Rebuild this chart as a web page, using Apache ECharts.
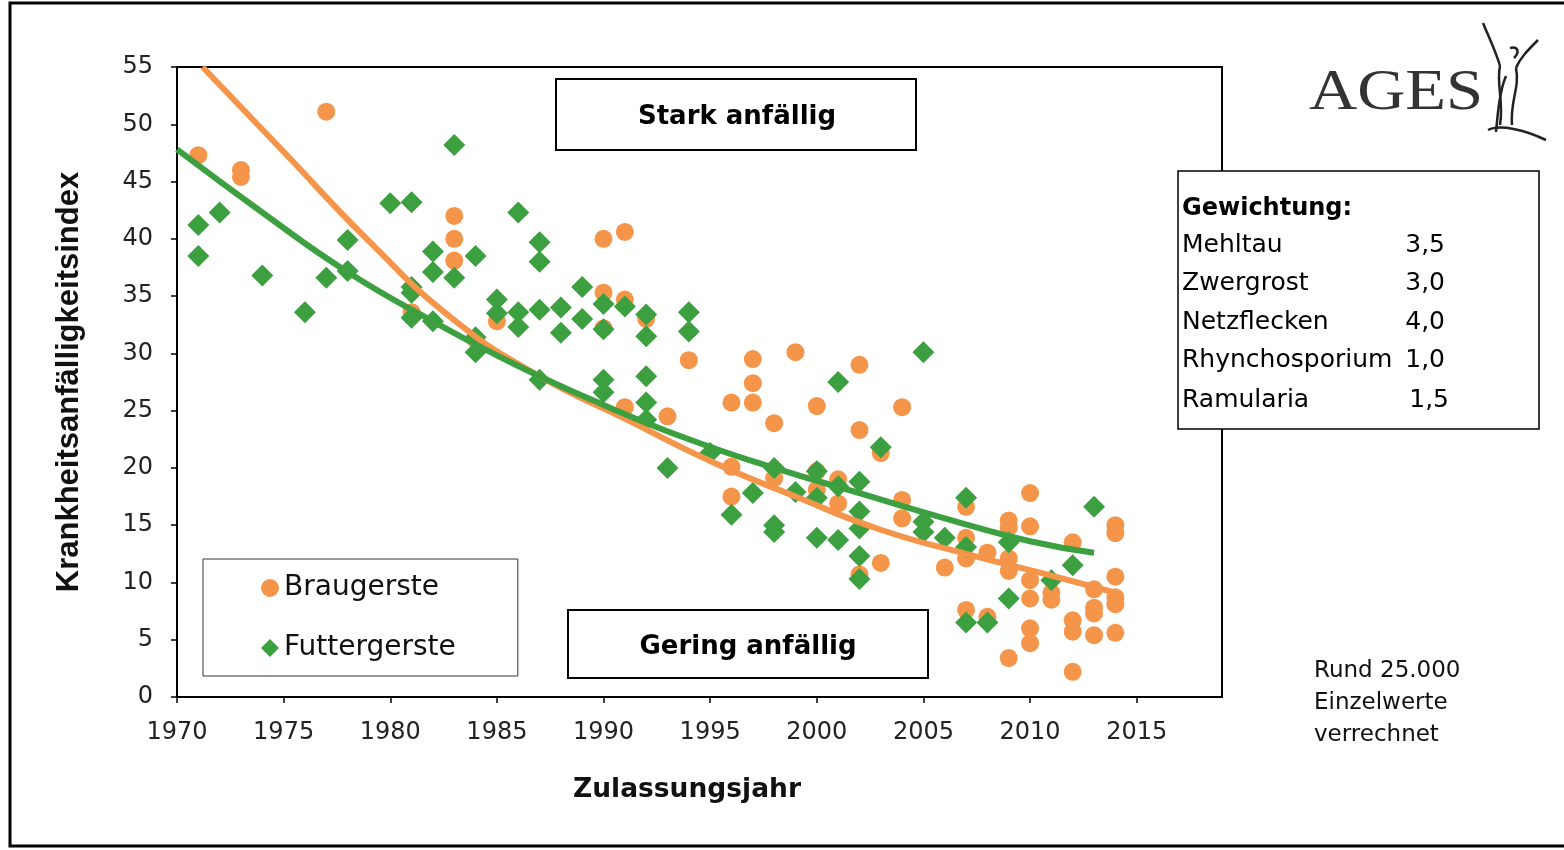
<!DOCTYPE html>
<html><head><meta charset="utf-8">
<script src="https://cdn.jsdelivr.net/npm/echarts@6/dist/echarts.min.js"></script>
<style>html,body{margin:0;padding:0;background:#fff}#c{width:1564px;height:850px}</style>
</head><body><div id="c"></div>
<script>
// ---- data ----
const braugerste = [
 [1971,47.3],[1973,46.0],[1973,45.4],[1977,51.1],[1981,33.6],[1983,42.0],[1983,40.0],[1983,38.1],
 [1984,31.2],[1985,32.8],[1990,40.0],[1990,35.3],[1990,32.2],[1991,40.6],[1991,34.7],[1991,25.3],
 [1992,33.0],[1993,24.5],[1994,29.4],[1996,25.7],[1996,20.1],[1996,17.5],[1997,29.5],[1997,27.4],
 [1997,25.7],[1998,23.9],[1998,19.1],[1999,30.1],[2000,25.4],[2000,19.7],[2000,18.1],[2001,19.0],
 [2001,16.9],[2002,29.0],[2002,23.3],[2002,10.7],[2003,21.3],[2003,11.7],[2004,25.3],[2004,17.2],
 [2004,15.6],[2006,11.3],[2007,16.6],[2007,13.9],[2007,12.1],[2007,7.6],[2008,12.6],[2008,7.0],
 [2009,15.4],[2009,14.8],[2009,12.1],[2009,11.0],[2009,3.4],[2010,17.8],[2010,14.9],[2010,10.2],
 [2010,8.6],[2010,6.0],[2010,4.7],[2011,9.1],[2011,8.5],[2012,13.5],[2012,6.7],[2012,5.7],[2012,2.2],
 [2013,9.4],[2013,7.8],[2013,7.3],[2013,5.4],[2014,15.0],[2014,14.3],[2014,10.5],[2014,8.7],[2014,8.1],[2014,5.6]
];
const futtergerste = [
 [1971,41.2],[1971,38.5],[1972,42.3],[1974,36.8],[1976,33.6],[1977,36.6],[1978,39.9],[1978,37.2],
 [1980,43.1],[1981,43.2],[1981,35.8],[1981,35.3],[1981,33.1],[1982,38.9],[1982,37.1],[1982,32.8],
 [1983,48.2],[1983,36.6],[1984,38.5],[1984,31.4],[1984,30.1],[1985,34.7],[1985,33.5],[1986,42.3],
 [1986,33.6],[1986,32.3],[1987,39.7],[1987,38.0],[1987,33.8],[1987,27.7],[1988,34.0],[1988,31.8],
 [1989,35.8],[1989,33.0],[1990,34.3],[1990,32.1],[1990,27.7],[1990,26.6],[1991,34.1],[1992,33.4],
 [1992,31.5],[1992,28.0],[1992,25.7],[1992,24.2],[1993,20.0],[1994,33.6],[1994,31.9],[1995,21.3],
 [1996,15.9],[1997,17.8],[1998,20.0],[1998,15.0],[1998,14.4],[1999,17.9],[2000,19.7],[2000,17.4],
 [2000,13.9],[2001,27.5],[2001,18.4],[2001,13.7],[2002,18.8],[2002,16.2],[2002,14.7],[2002,12.3],
 [2002,10.3],[2003,21.8],[2005,30.1],[2005,15.3],[2005,14.4],[2006,13.9],[2007,17.4],[2007,13.1],
 [2007,6.5],[2008,6.5],[2009,13.5],[2009,8.6],[2011,10.2],[2012,11.5],[2013,16.6]
];
// trend curves
const trendBrau = [[1971.2,55.0],[1975,47.6],[1979,39.8],[1983,32.9],[1987,28.0],[1991,24.3],[1995,20.6],[1999,17.5],[2003,14.6],[2007,12.5],[2011,10.6],[2014,9.1]];
const trendFutter = [[1970,47.8],[1974,42.3],[1978,37.1],[1982,32.8],[1986,28.9],[1990,25.5],[1994,22.5],[1998,20.0],[2002,17.8],[2006,15.6],[2010,13.6],[2013,12.6]];
const seriesNames = ['Braugerste','Futtergerste'];
const weights = [['Mehltau','3,5'],['Zwergrost','3,0'],['Netzflecken','4,0'],['Rhynchosporium','1,0'],['Ramularia','1,5']];
const noteLines = ['Rund 25.000','Einzelwerte','verrechnet'];

const ORANGE = '#F4954A', GREEN = '#3C9F40';
const FONT = '"DejaVu Sans", Verdana, sans-serif';
const SERIF = '"Liberation Serif", "DejaVu Serif", serif';

const chart = echarts.init(document.getElementById('c'));
const graphic = [
  {type:'rect', shape:{x:10,y:3,width:1600,height:843}, style:{fill:'none',stroke:'#000',lineWidth:3}, z:-1},
  {type:'rect', shape:{x:556,y:79,width:360,height:71}, style:{fill:'#fff',stroke:'#000',lineWidth:2}, z:5},
  {type:'text', x:737, y:117, style:{text:'Stark anfällig', font:'bold 26px '+FONT, fill:'#000', align:'center', verticalAlign:'middle'}, z:6},
  {type:'rect', shape:{x:568,y:610,width:360,height:68}, style:{fill:'#fff',stroke:'#000',lineWidth:2}, z:5},
  {type:'text', x:748, y:647, style:{text:'Gering anfällig', font:'bold 26px '+FONT, fill:'#000', align:'center', verticalAlign:'middle'}, z:6},
  {type:'rect', shape:{x:1178,y:171,width:361,height:258}, style:{fill:'#fff',stroke:'#000',lineWidth:1.5}, z:5},
  {type:'text', x:1182, y:209, style:{text:'Gewichtung:', font:'bold 24px '+FONT, fill:'#000', verticalAlign:'middle'}, z:6},
];
const wy = [245,283,322,360,400];
weights.forEach((w,i)=>{
  graphic.push({type:'text', x:1182, y:wy[i], style:{text:w[0], font:'25px '+FONT, fill:'#000', verticalAlign:'middle'}, z:6});
  graphic.push({type:'text', x:i===4?1449:1445, y:wy[i], style:{text:w[1], font:'25px '+FONT, fill:'#000', align:'right', verticalAlign:'middle'}, z:6});
});
noteLines.forEach((t,i)=>{
  graphic.push({type:'text', x:1314, y:671+i*32, style:{text:t, font:'23px '+FONT, fill:'#111', verticalAlign:'middle'}, z:6});
});
// AGES logo
graphic.push({type:'text', x:1309, y:94, scaleX:1.15, style:{text:'AGES', font:'58px '+SERIF, fill:'#333', verticalAlign:'middle'}, z:6});
const curves = [
  [1483,23, 1490,40, 1496,52, 1500,66],
  [1538,40, 1528,50, 1520,58, 1516,68],
  [1500,66, 1496,85, 1504,100, 1500,125],
  [1516,68, 1520,88, 1510,100, 1512,125],
  [1506,76, 1500,90, 1498,110, 1496,132],
  [1488,130, 1500,124, 1525,130, 1546,140],
  [1510,48, 1518,46, 1520,52, 1514,58]
];
curves.forEach(c=>graphic.push({type:'bezierCurve', shape:{x1:c[0],y1:c[1],cpx1:c[2],cpy1:c[3],cpx2:c[4],cpy2:c[5],x2:c[6],y2:c[7]}, style:{fill:null,stroke:'#222',lineWidth:2.5}, z:6}));

chart.setOption({
  animation:false,
  textStyle:{fontFamily:FONT},
  graphic: graphic,
  grid:{left:177, top:67, width:1045, height:630, show:true, borderColor:'#000', borderWidth:2, backgroundColor:'transparent'},
  legend:{
    data: seriesNames, orient:'vertical', left:203, top:559,
    padding:[14,62,13,58], itemGap:30, itemWidth:18, itemHeight:18,
    backgroundColor:'#fff', borderColor:'#333', borderWidth:1,
    textStyle:{fontSize:28, color:'#111', lineHeight:30, fontFamily:FONT}
  },
  xAxis:{
    type:'value', min:1970, max:2019, interval:5,
    name:'Zulassungsjahr', nameLocation:'middle', nameGap:80,
    nameTextStyle:{fontSize:26.5, fontWeight:'bold', color:'#111', padding:[0,25,0,0]},
    axisLine:{show:true, onZero:false, lineStyle:{color:'#000', width:2}},
    axisTick:{show:true, length:6, lineStyle:{color:'#000', width:1.5}},
    axisLabel:{fontSize:24, color:'#222', margin:24, showMaxLabel:false,
      formatter:v=> (v%5===0 ? String(v) : '')},
    splitLine:{show:false}
  },
  yAxis:{
    type:'value', min:0, max:55, interval:5,
    name:'Krankheitsanfälligkeitsindex', nameLocation:'middle', nameGap:92,
    nameTextStyle:{fontSize:31, fontWeight:'bold', color:'#111', fontFamily:'"Liberation Sans Narrow", "Arial Narrow", "Liberation Sans", sans-serif'},
    axisLine:{show:true, onZero:false, lineStyle:{color:'#000', width:2}},
    axisTick:{show:true, length:6, lineStyle:{color:'#000', width:1.5}},
    axisLabel:{fontSize:24, color:'#222', margin:24},
    splitLine:{show:false}
  },
  series:[
    {name:seriesNames[0], type:'scatter', data:braugerste, symbol:'circle', symbolSize:18, itemStyle:{color:ORANGE, opacity:1}, z:2},
    {name:seriesNames[1], type:'scatter', data:futtergerste, symbol:'diamond', symbolSize:22, itemStyle:{color:GREEN, opacity:1}, z:3},
    {name:'Trend Braugerste', type:'line', data:trendBrau, smooth:0.5, symbol:'none', lineStyle:{color:ORANGE, width:6}, z:4},
    {name:'Trend Futtergerste', type:'line', data:trendFutter, smooth:0.5, symbol:'none', lineStyle:{color:GREEN, width:6}, z:5}
  ]
});
</script></body></html>
